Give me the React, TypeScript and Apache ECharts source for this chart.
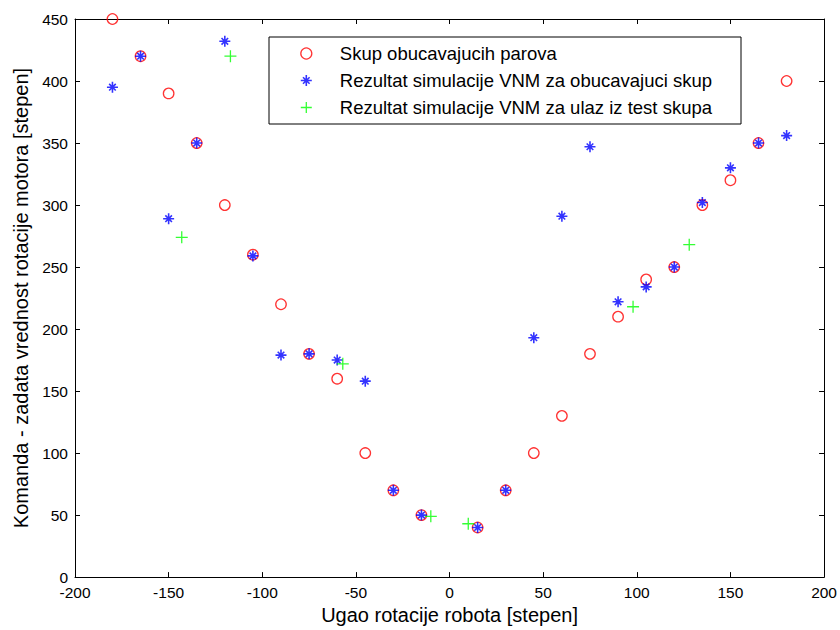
import React, { useEffect, useRef } from "react";
import * as echarts from "echarts";

const angles = [-180, -165, -150, -135, -120, -105, -90, -75, -60, -45, -30, -15, 15, 30, 45, 60, 75, 90, 105, 120, 135, 150, 165, 180];
const trainTargets = [450, 420, 390, 350, 300, 260, 220, 180, 160, 100, 70, 50, 40, 70, 100, 130, 180, 210, 240, 250, 300, 320, 350, 400];
const trainSim = [395, 420, 289, 350, 432, 259, 179, 180, 175, 158, 70, 50, 40, 70, 193, 291, 347, 222, 234, 250, 302, 330, 350, 356];
const testAngles = [-143, -117, -57, -10, 10, 98, 128];
const testSim = [274, 420, 172, 49, 43, 218, 268];

const seriesNames = [
  "Skup obucavajucih parova",
  "Rezultat simulacije VNM za obucavajuci skup",
  "Rezultat simulacije VNM za ulaz iz test skupa",
];
const xTicks = { min: -200, max: 200, interval: 50 };
const yTicks = { min: 0, max: 450, interval: 50 };

const STAR = "path://M5,0L5,10M0,5L10,5M2,2L8,8M8,2L2,8";
const PLUS = "path://M5,0L5,10M0,5L10,5";
const FONT = "Liberation Sans, Arial, sans-serif";

export default function App() {
  const ref = useRef<HTMLDivElement>(null);
  useEffect(() => {
    if (!ref.current) return;
    const chart = echarts.init(ref.current, null, { renderer: "svg" });
    const pair = (xs: number[], ys: number[]) => xs.map((x, i) => [x, ys[i]]);
    const axisCommon = {
      axisLine: { show: true, onZero: false, lineStyle: { color: "#000", width: 1 } },
      axisTick: { show: true, inside: true, length: 5, lineStyle: { color: "#000" } },
      splitLine: { show: false },
    };
    const styles = [
      { color: "transparent", borderColor: "#ff0000", borderWidth: 1.3 },
      { color: "transparent", borderColor: "#0000ff", borderWidth: 1.6 },
      { color: "transparent", borderColor: "#00ff00", borderWidth: 1.3 },
    ];
    chart.setOption({
      animation: false,
      backgroundColor: "#fff",
      textStyle: { fontFamily: FONT },
      grid: { left: 75, right: 15, top: 19, bottom: 48.5, containLabel: false },
      legend: {
        orient: "vertical",
        left: 269,
        top: 37,
        padding: [7, 29, 7, 31],
        itemGap: 8,
        itemWidth: 11,
        itemHeight: 11,
        borderColor: "#000",
        borderWidth: 1,
        backgroundColor: "#fff",
        textStyle: { fontSize: 18.5, color: "#000", fontFamily: FONT, padding: [0, 0, 0, 23] },
        data: seriesNames.map((n, i) => ({ name: n, itemStyle: styles[i] })),
      },
      xAxis: [
        {
          type: "value",
          ...xTicks,
          position: "bottom",
          ...axisCommon,
          axisLabel: { color: "#000", fontSize: 15.5, margin: 7, fontFamily: FONT },
          name: "Ugao rotacije robota [stepen]",
          nameLocation: "middle",
          nameGap: 27,
          nameTextStyle: { color: "#000", fontSize: 20, fontFamily: FONT },
        },
        {
          type: "value",
          ...xTicks,
          position: "top",
          ...axisCommon,
          axisLabel: { show: false },
        },
      ],
      yAxis: [
        {
          type: "value",
          ...yTicks,
          position: "left",
          ...axisCommon,
          axisLabel: { color: "#000", fontSize: 15.5, margin: 7, fontFamily: FONT },
          name: "Komanda - zadata vrednost rotacije motora [stepen]",
          nameLocation: "middle",
          nameGap: 41,
          nameTextStyle: { color: "#000", fontSize: 20, fontFamily: FONT },
        },
        {
          type: "value",
          ...yTicks,
          position: "right",
          ...axisCommon,
          axisLabel: { show: false },
        },
      ],
      series: [
        {
          name: seriesNames[0],
          type: "scatter",
          symbol: "circle",
          symbolSize: 10.5,
          itemStyle: styles[0],
          data: pair(angles, trainTargets),
          z: 2,
        },
        {
          name: seriesNames[1],
          type: "scatter",
          symbol: STAR,
          symbolSize: 11,
          itemStyle: styles[1],
          data: pair(angles, trainSim),
          z: 3,
        },
        {
          name: seriesNames[2],
          type: "scatter",
          symbol: PLUS,
          symbolSize: 12,
          itemStyle: styles[2],
          data: pair(testAngles, testSim),
          z: 4,
        },
      ],
    });
    return () => chart.dispose();
  }, []);
  return <div ref={ref} style={{ width: 840, height: 630, position: "absolute", left: 0, top: 0 }} />;
}
